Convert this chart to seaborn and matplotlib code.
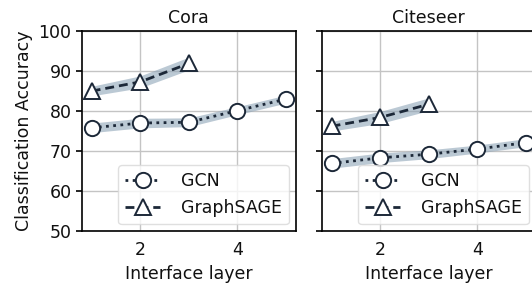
import numpy as np
import pandas as pd
import seaborn as sns
import matplotlib.pyplot as plt

# values
layers = [1, 2, 3, 4, 5]
cora_gcn = [75.8, 77.0, 77.2, 80.1, 83.0]
cora_sage = [85.0, 87.3, 91.9]
citeseer_gcn = [66.9, 68.3, 69.2, 70.5, 72.1]
citeseer_sage = [76.2, 78.4, 81.7]
band_gcn = [1.2, 1.2, 1.1, 1.0, 1.0]
band_sage = [1.2, 1.5, 1.6]
datasets = ["Cora", "Citeseer"]
models = ["GCN", "GraphSAGE"]

LINE = "#1c2838"
BAND = "#8fa5b8"
FS = 12.5

sns.set_style("whitegrid")
plt.rcParams['font.family'] = ['DejaVu Sans']
plt.rcParams['text.color'] = "#111111"
plt.rcParams['axes.labelcolor'] = "#111111"
plt.rcParams['xtick.color'] = "#111111"
plt.rcParams['ytick.color'] = "#111111"

fig = plt.figure(figsize=(5.32, 2.88), dpi=100)
ax1 = fig.add_axes([0.154, 0.198, 0.402, 0.694])
ax2 = fig.add_axes([0.605, 0.198, 0.402, 0.694], sharey=ax1)

series = {
    "Cora": (cora_gcn, cora_sage),
    "Citeseer": (citeseer_gcn, citeseer_sage),
}

for ax, name in zip([ax1, ax2], datasets):
    gcn, sage = series[name]
    rows = []
    for x, y in zip(layers, gcn):
        rows.append({"layer": x, "acc": y, "model": "GCN"})
    for x, y in zip(layers[:len(sage)], sage):
        rows.append({"layer": x, "acc": y, "model": "GraphSAGE"})
    df = pd.DataFrame(rows)

    # shaded bands
    g = np.array(gcn)
    s = np.array(sage)
    ax.fill_between(layers, g - np.array(band_gcn), g + np.array(band_gcn),
                    color=BAND, alpha=0.6, lw=0, zorder=2)
    ax.fill_between(layers[:len(sage)], s - np.array(band_sage), s + np.array(band_sage),
                    color=BAND, alpha=0.6, lw=0, zorder=2)

    sns.lineplot(data=df, x="layer", y="acc", hue="model", style="model",
                 hue_order=models, style_order=models,
                 palette=[LINE, LINE], markers=["o", "^"],
                 dashes=[(1, 1.6), (3.2, 1.8)], ax=ax, lw=2,
                 markersize=11, markerfacecolor="white",
                 markeredgecolor=LINE, markeredgewidth=1.4,
                 zorder=3)

    ax.set_title(name, fontsize=FS)
    ax.set_xlim(0.8, 5.2)
    ax.set_ylim(50, 100)
    ax.set_yticks([50, 60, 70, 80, 90, 100])
    ax.set_xticks([2, 4])
    ax.set_xlabel("Interface layer", fontsize=FS)
    ax.grid(True, color="#c4c4c4", lw=1)
    for sp in ax.spines.values():
        sp.set_color("black")
        sp.set_linewidth(1.2)
    ax.tick_params(axis="both", which="both", direction="out", length=4,
                   width=1.2, color="black", labelsize=FS, left=True, bottom=False)
    leg = ax.legend(loc="lower right", fontsize=FS, handlelength=2.0,
                    handletextpad=1.2, frameon=True, borderaxespad=0.4)
    leg.get_frame().set_edgecolor("#d8d8d8")

ax1.set_ylabel("Classification Accuracy", fontsize=FS)
ax2.set_ylabel("")
plt.setp(ax2.get_yticklabels(), visible=False)

fig.savefig("out.png", dpi=100)
